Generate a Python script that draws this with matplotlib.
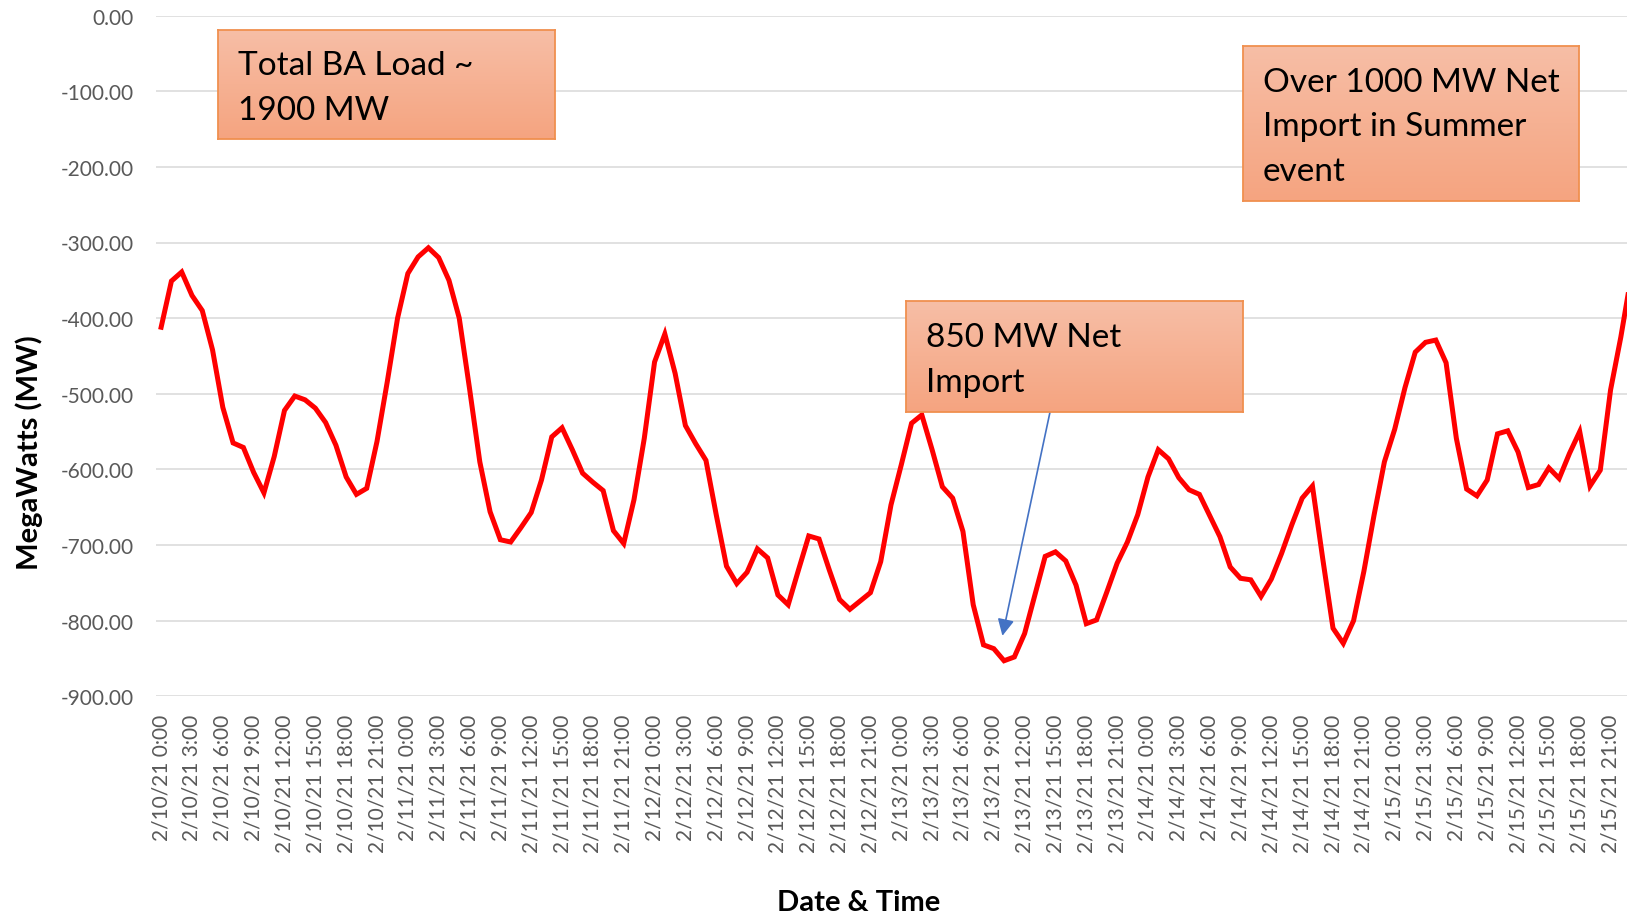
import matplotlib.pyplot as plt
import numpy as np

# hourly net interchange, 2/10/21 0:00 .. 2/15/21 23:00
hours = np.arange(144)
day1 = [-412, -351, -339, -370, -390, -442, -518, -565, -571, -604, -631, -583,
        -522, -503, -508, -519, -538, -568, -610, -633, -625, -563, -484, -400]
day2 = [-341, -319, -307, -320, -350, -400, -493, -590, -656, -693, -696, -677,
        -657, -614, -557, -545, -574, -605, -617, -628, -681, -698, -640, -559]
day3 = [-458, -421, -473, -542, -566, -588, -660, -728, -751, -736, -705, -717,
        -766, -779, -733, -688, -692, -733, -772, -785, -774, -763, -722, -647]
day4 = [-594, -539, -528, -574, -623, -638, -682, -779, -832, -837, -853, -848,
        -817, -766, -715, -709, -721, -753, -804, -799, -762, -724, -696, -660]
day5 = [-610, -574, -586, -611, -627, -633, -661, -689, -729, -744, -746, -768,
        -745, -711, -673, -638, -622, -718, -810, -830, -800, -735, -660, -590]
day6 = [-547, -492, -445, -432, -429, -459, -559, -626, -635, -614, -553, -549,
        -577, -624, -620, -598, -612, -579, -550, -622, -601, -495, -425, -345]
mw = day1 + day2 + day3 + day4 + day5 + day6

days = ['2/10/21', '2/11/21', '2/12/21', '2/13/21', '2/14/21', '2/15/21']
tick_hours = [0, 3, 6, 9, 12, 15, 18, 21]
tick_pos = [24*d + h for d in range(len(days)) for h in tick_hours]
tick_lab = ['%s %d:00' % (day, h) for day in days for h in tick_hours]

W, H = 1627, 920
fig = plt.figure(figsize=(W/100, H/100), dpi=100)
plt.rcParams['font.family'] = ['Lato', 'DejaVu Sans']

ax = fig.add_axes([156/W, 1-697.3/H, (W-156)/W, (697.3-16.6)/H])
ax.plot(hours, mw, color='#FF0000', lw=3.6, solid_joinstyle='miter', zorder=3)
ax.set_xlim(-0.5, 142.6)
ax.set_ylim(-900, 0)
ax.set_yticks(np.arange(-900, 1, 100))
ax.set_yticklabels(['%.2f' % v for v in np.arange(-900, 1, 100)])
ax.set_xticks(tick_pos)
ax.set_xticklabels(tick_lab, rotation=90)
ax.grid(axis='y', color='#D9D9D9', lw=1.1)
ax.set_axisbelow(True)
for s in ax.spines.values():
    s.set_visible(False)
ax.tick_params(length=0, labelsize=15, labelcolor='#595959')
ax.tick_params(axis='y', pad=16)
ax.tick_params(axis='x', pad=12.5)

ax.annotate('', xy=(81.84, -820), xytext=(86.48, -523.5),
            arrowprops=dict(arrowstyle='-|>', color='#4472C4', lw=1.2,
                            mutation_scale=25, shrinkA=0, shrinkB=0), zorder=5)

fig.text(29/W, 1-453/H, 'MegaWatts (MW)', rotation=90, fontsize=21,
         fontweight='bold', ha='center', va='center')
fig.text(859/W, 1-903/H, 'Date & Time', fontsize=21, fontweight='bold',
         ha='center', va='center')

grad = np.linspace(0, 1, 100).reshape(-1, 1)
top = np.array([247, 190, 166]) / 255
bot = np.array([245, 164, 128]) / 255
img = top[None, None, :] * (1 - grad[:, :, None]) + bot[None, None, :] * grad[:, :, None]


def box(x0, y0, x1, y1, txt):
    b = fig.add_axes([x0/W, 1-y1/H, (x1-x0)/W, (y1-y0)/H])
    b.imshow(img, aspect='auto', extent=(0, 1, 0, 1))
    b.set_xlim(0, 1); b.set_ylim(0, 1)
    b.set_xticks([]); b.set_yticks([])
    for s in b.spines.values():
        s.set_color('#F0904F'); s.set_linewidth(1.3)
    b.text(20/(x1-x0), 0.5 - 3/(y1-y0), txt, fontsize=24, ha='left', va='center',
           linespacing=1.6, transform=b.transAxes)


box(218, 31, 555, 140, 'Total BA Load ~\n1900 MW')
box(906, 302, 1243, 413, '850 MW Net\nImport')
box(1243, 47, 1579, 202, 'Over 1000 MW Net\nImport in Summer\nevent')

fig.savefig('out.png', dpi=100)
